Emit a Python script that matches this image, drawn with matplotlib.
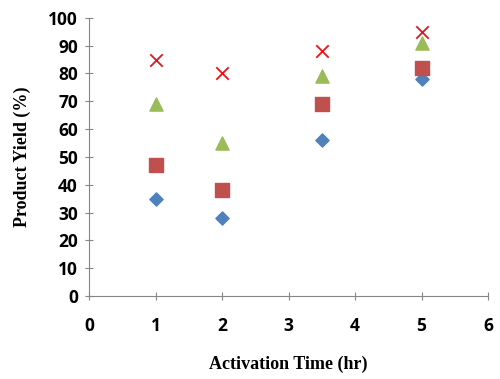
import matplotlib.pyplot as plt

time_hr = [1, 2, 3.5, 5]
yield_diamond = [35, 28, 56, 78]
yield_square = [47, 38, 69, 82]
yield_triangle = [69, 55, 79, 91]
yield_cross = [85, 80, 88, 95]

fig = plt.figure(figsize=(5, 3.79), dpi=100)
ax = fig.add_axes([0.178, 0.219, 0.798, 0.734])

ax.scatter(time_hr, yield_diamond, marker='D', s=45, color='#4F81BD', zorder=3)
ax.scatter(time_hr, yield_square, marker='s', s=90, color='#C0504D', zorder=3)
ax.scatter(time_hr, yield_triangle, marker='^', s=90, color='#9BBB59', zorder=3)
ax.scatter(time_hr, yield_cross, marker='x', s=80, color='#E3151A', linewidths=1.3, zorder=4)

ax.set_xlim(0, 6)
ax.set_ylim(0, 100)
ax.set_xticks(range(0, 7))
ax.set_yticks(range(0, 101, 10))

for s in ['top', 'right']:
    ax.spines[s].set_visible(False)
for s in ['left', 'bottom']:
    ax.spines[s].set_color('#868686')
ax.tick_params(axis='both', direction='inout', length=6, color='#868686', labelsize=12.5)
ax.tick_params(axis='x', pad=12)
ax.tick_params(axis='y', pad=5)
for lab in ax.get_xticklabels() + ax.get_yticklabels():
    lab.set_fontweight('bold')
    lab.set_family('Open Sans')

ax.set_xlabel('Activation Time (hr)', fontsize=13, fontweight='bold', family='Liberation Serif', labelpad=15)
ax.set_ylabel('Product Yield (%)', fontsize=13, fontweight='bold', family='Liberation Serif', labelpad=12)

fig.savefig('out.png', dpi=100)
